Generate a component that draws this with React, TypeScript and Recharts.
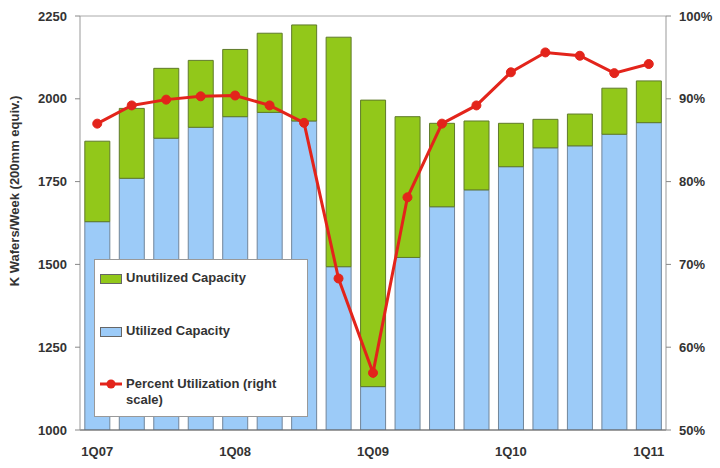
import {
  ComposedChart,
  Bar,
  Line,
  XAxis,
  YAxis,
  CartesianGrid,
} from "recharts";

const quarters = [
  "1Q07", "2Q07", "3Q07", "4Q07",
  "1Q08", "2Q08", "3Q08", "4Q08",
  "1Q09", "2Q09", "3Q09", "4Q09",
  "1Q10", "2Q10", "3Q10", "4Q10",
  "1Q11",
];
const utilized = [
  1629, 1760, 1881, 1914, 1946, 1959, 1933, 1493,
  1131, 1521, 1674, 1725, 1795, 1852, 1858, 1893, 1928,
];
const unutilized = [
  243, 211, 211, 202, 203, 239, 290, 693,
  865, 425, 252, 208, 131, 86, 96, 139, 126,
];
const percentUtil = [
  87.0, 89.2, 89.9, 90.3, 90.4, 89.2, 87.1, 68.3,
  56.9, 78.1, 87.0, 89.2, 93.2, 95.6, 95.2, 93.1, 94.2,
];
const leftTicks = [1000, 1250, 1500, 1750, 2000, 2250];
const rightTicks = [50, 60, 70, 80, 90, 100];

const GREEN = "#92c81a";
const BLUE = "#9ccbf8";
const RED = "#e3241b";
const FONT = "'Liberation Sans', Arial, sans-serif";

const data = quarters.map((q, i) => ({
  q,
  utilized: utilized[i],
  unutilized: unutilized[i],
  pct: percentUtil[i],
}));

const tickStyle = { fontSize: 13, fontWeight: 700, fill: "#333", fontFamily: FONT };

// legend sits on top of the bars, like the Excel original
function LegendBox() {
  const row = { display: "flex", alignItems: "flex-start", gap: 4 } as const;
  const swatch = (c: string) => (
    <span
      style={{
        display: "inline-block",
        flex: "none",
        width: 20,
        height: 8,
        marginTop: 4,
        background: c,
        border: "1px solid #666",
      }}
    />
  );
  return (
    <div
      style={{
        position: "absolute",
        left: 94,
        top: 259,
        width: 214,
        height: 158,
        boxSizing: "border-box",
        background: "#fff",
        border: "1px solid #999",
        padding: "10px 6px 0 5px",
        fontFamily: FONT,
        fontSize: 13,
        fontWeight: 700,
        color: "#333",
        lineHeight: "16px",
      }}
    >
      <div style={row}>
        {swatch(GREEN)}
        <span>Unutilized Capacity</span>
      </div>
      <div style={{ ...row, marginTop: 37 }}>
        {swatch(BLUE)}
        <span>Utilized Capacity</span>
      </div>
      <div style={{ ...row, marginTop: 37 }}>
        <svg width={22} height={14} style={{ flex: "none", marginTop: 1 }}>
          <line x1={0} y1={7} x2={22} y2={7} stroke={RED} strokeWidth={3} />
          <circle cx={11} cy={7} r={4.5} fill={RED} />
        </svg>
        <span>Percent Utilization (right scale)</span>
      </div>
    </div>
  );
}

function AxisTitle() {
  return (
    <text
      x={14}
      y={191}
      transform="rotate(-90 14 191)"
      textAnchor="middle"
      dominantBaseline="central"
      style={{ ...tickStyle, fontSize: 13 }}
    >
      K Wafers/Week (200mm equiv.)
    </text>
  );
}

export default function App() {
  return (
    <div style={{ position: "absolute", left: 0, top: 0, width: 720, height: 468, background: "#fff" }}>
      <ComposedChart
        width={720}
        height={468}
        data={data}
        margin={{ top: 16, right: 0, left: 0, bottom: 8 }}
        barCategoryGap="14%"
      >
        <CartesianGrid vertical={false} stroke="#aaa" />
        <XAxis
          dataKey="q"
          interval={3}
          tick={tickStyle}
          tickLine={false}
          axisLine={{ stroke: "#666" }}
          height={30}
          tickMargin={11}
        />
        <YAxis
          yAxisId="left"
          domain={[1000, 2250]}
          ticks={leftTicks}
          allowDataOverflow
          width={80}
          tick={tickStyle}
          tickLine={{ stroke: "#888" }}
          tickSize={5}
          axisLine={{ stroke: "#999" }}
          tickMargin={8}
          label={<AxisTitle />}
        />
        <YAxis
          yAxisId="right"
          orientation="right"
          domain={[50, 100]}
          ticks={rightTicks}
          width={54}
          tick={tickStyle}
          tickLine={{ stroke: "#888" }}
          tickSize={5}
          axisLine={{ stroke: "#999" }}
          tickMargin={8}
          tickFormatter={(v: number) => `${v}%`}
        />
        <Bar
          yAxisId="left"
          dataKey="utilized"
          stackId="cap"
          fill={BLUE}
          stroke="#71859a"
          strokeWidth={1}
          isAnimationActive={false}
        />
        <Bar
          yAxisId="left"
          dataKey="unutilized"
          stackId="cap"
          fill={GREEN}
          stroke="#5f7a2a"
          strokeWidth={1}
          isAnimationActive={false}
        />
        <Line
          yAxisId="right"
          dataKey="pct"
          stroke={RED}
          strokeWidth={3}
          dot={{ r: 4.5, fill: RED, stroke: RED, strokeWidth: 1 }}
          isAnimationActive={false}
        />
      </ComposedChart>
      <LegendBox />
    </div>
  );
}
